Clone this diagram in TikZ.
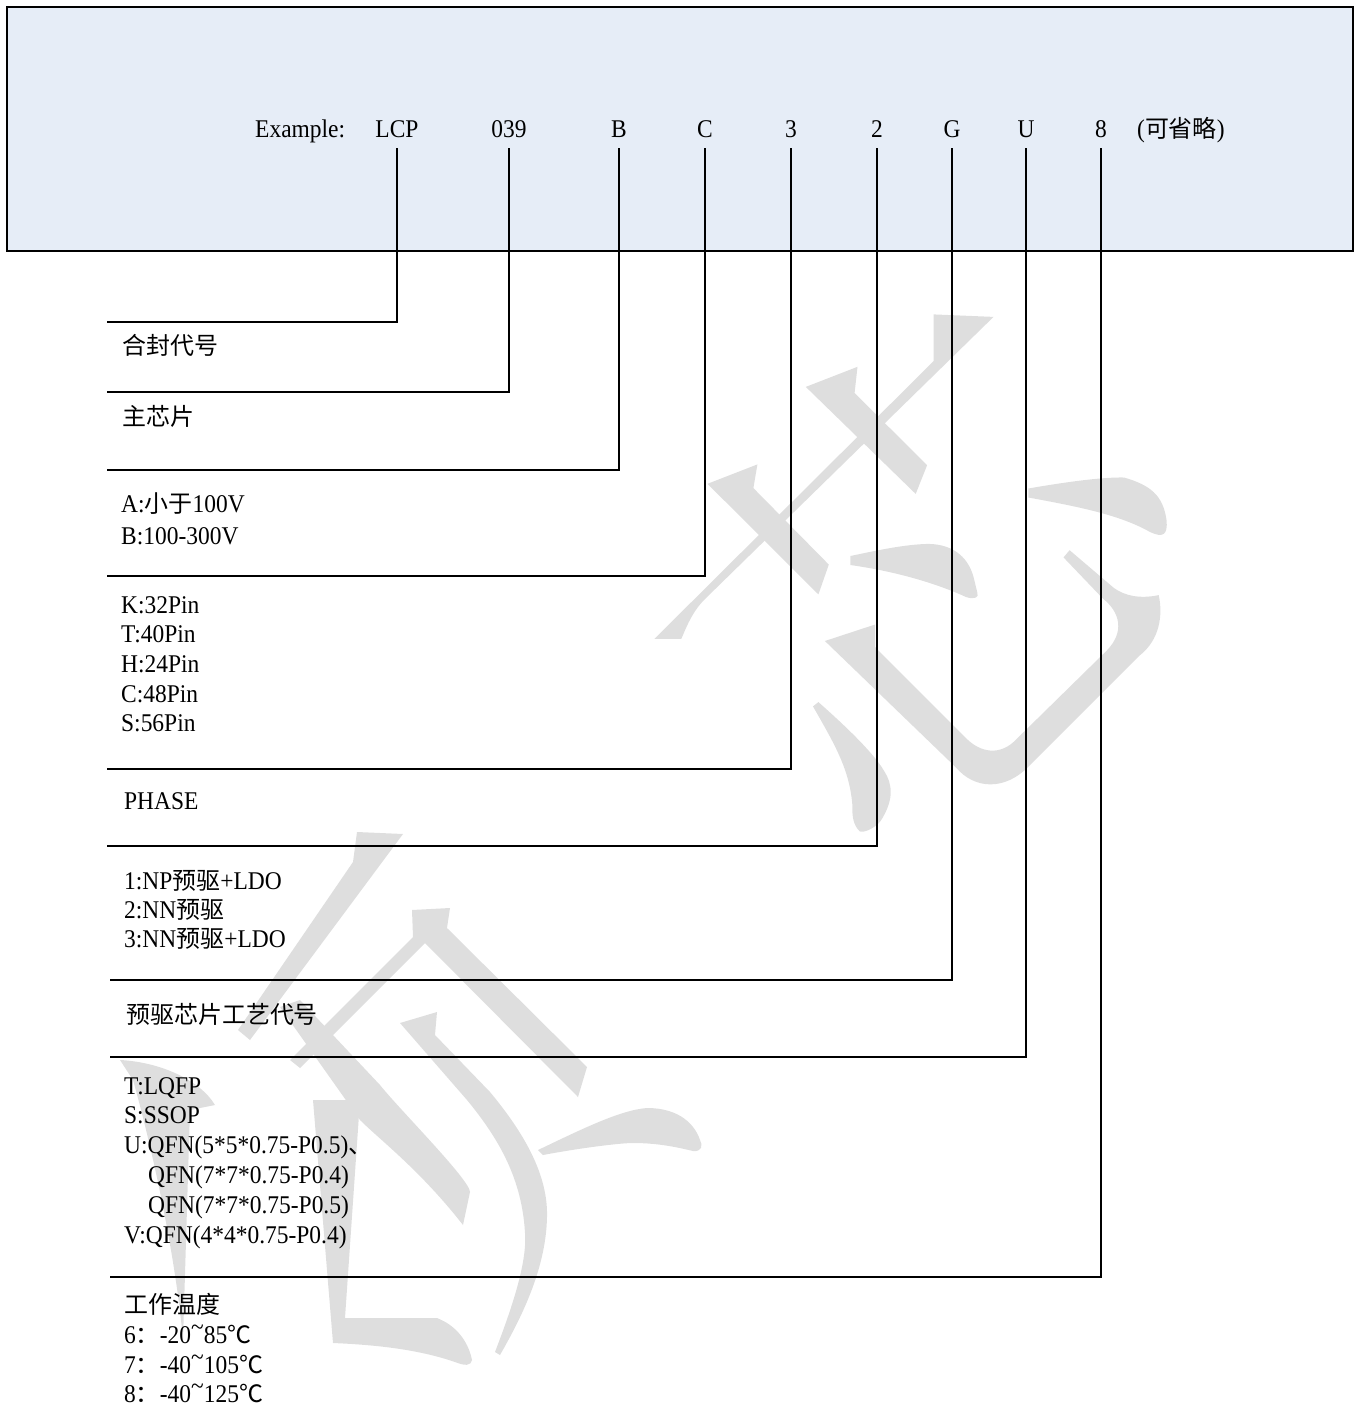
\documentclass[tikz,border=0pt]{standalone}
\usepackage{fontspec}
\setmainfont{Liberation Serif}[FakeStretch=0.92]
\newfontfamily\cjk{Noto Sans CJK SC}[Scale=0.94]
\newcommand\zh[1]{{\cjk #1}}
\newcommand\tld{\raisebox{8pt}{\textasciitilde}}
\definecolor{boxfill}{HTML}{E6EDF7}
\definecolor{wm}{HTML}{DEDEDE}
\tikzset{
  lbl/.style={font=\fontsize{25.5}{29}\selectfont, inner sep=0pt, anchor=base west},
  hdr/.style={font=\fontsize{25.5}{29}\selectfont, inner sep=0pt, anchor=base},
  leader/.style={line width=2pt, black},
  headbox/.style={draw=black, line width=2.5pt, fill=boxfill},
  wmark/.style={fill=wm, draw=none}
}
\begin{document}
\begin{tikzpicture}[x=1pt,y=-1pt]
\useasboundingbox (0,0) rectangle (1358,1408);
% header box
\draw[headbox] (7,7) rectangle (1353,251);

% ---- watermark (upper character) ----
\fill[wmark] (933.6,314.4) -- (993.5,316.9) -- (704.6,599.4) .. controls (692,612) and (686,628) .. (681.3,638.9) -- (654.4,638.9) -- (933.6,361.1) -- cycle;
\fill[wmark] (805.8,386.9) -- (857.5,366.8) -- (854.6,393.0) -- (927.1,465.2) -- (915.7,493.9) -- cycle;
\fill[wmark] (707.5,483.8) -- (757.4,464.4) -- (753.4,488.1) -- (828.8,564.6) -- (818.4,594.4) -- cycle;
\fill[wmark] (850.3,556) -- (850.3,565) .. controls (900,572) and (940,585) .. (966,597) .. controls (975,600) and (979,597) .. (977.4,593) -- (973.8,578) .. controls (968,555) and (950,543) .. (925,544) .. controls (900,545) and (870,552) .. (850.3,556) -- cycle;
\fill[wmark] (1028.4,488.5) .. controls (1060,483) and (1100,477) .. (1124,477.5) .. controls (1150,485) and (1163,495) .. (1166.5,520) .. controls (1168,535) and (1163,538) .. (1150,532) .. controls (1120,515) and (1080,507) .. (1028.4,497.5) -- cycle;
\fill[wmark] (824.9,641) -- (875.1,624.5) -- (875.1,647.1) -- (966.6,738.7) .. controls (980,752) and (1000,757) .. (1016.9,738.7) -- (1106.6,650.7) .. controls (1125,632) and (1120,612) .. (1103,598.7) -- (1063.5,557.4) -- (1069.6,550.2) -- (1113.8,587.9) .. controls (1125,596) and (1140,599) .. (1158.7,595.1) .. controls (1163,615) and (1160,640) .. (1138.9,656.1) -- (1027.6,767.4) .. controls (1005,790) and (975,790) .. (955.9,767.4) -- cycle;
\fill[wmark] (813,706.4) -- (818.4,702.1) .. controls (850,730) and (875,755) .. (884.1,771) .. controls (893,785) and (894,800) .. (880.5,821.2) .. controls (873,830) and (862,833) .. (859.7,831.3) .. controls (853,825) and (852,815) .. (852.5,806.9) .. controls (850,770) and (835,745) .. (813,706.4) -- cycle;
% ---- watermark (lower character) ----
\fill[wmark] (357,832) -- (403,834) -- (250,1040) -- (238,1030) -- (353,862) -- cycle;
\fill[wmark] (412,910) -- (450,908) -- (447,928) -- (587,1067) -- (578,1097) -- (425,943) -- (300,1068) -- (290,1060) -- (413,937) -- cycle;
\fill[wmark] (400,1023) -- (437,1012) -- (435,1035) -- (490,1092) .. controls (530,1140) and (548,1180) .. (547,1217) .. controls (546,1270) and (520,1320) .. (500,1355) -- (495,1352) .. controls (515,1300) and (527,1260) .. (525,1233) .. controls (522,1180) and (500,1140) .. (467,1100) -- cycle;
\fill[wmark] (538,1150) -- (543,1155) .. controls (580,1148) and (620,1143) .. (633,1143) .. controls (660,1143) and (680,1148) .. (693,1151) .. controls (702,1152) and (703,1145) .. (700,1140) .. controls (695,1125) and (680,1108) .. (647,1108) .. controls (620,1110) and (580,1130) .. (538,1150) -- cycle;
\fill[wmark] (280,1007) -- (300,1000) -- (380,1085) .. controls (400,1110) and (470,1180) .. (470,1192) -- (463,1225) .. controls (420,1170) and (380,1140) .. (360,1120) -- cycle;
\fill[wmark] (313,1100) -- (360,1100) -- (345,1318) -- (437,1318) .. controls (455,1325) and (468,1340) .. (472,1360) .. controls (471,1366) and (465,1366) .. (455,1362) .. controls (420,1350) and (380,1345) .. (333,1343) -- cycle;
\fill[wmark] (120,1060) .. controls (160,1062) and (200,1080) .. (215,1105) -- (190,1110) -- (183,1340) .. controls (175,1250) and (150,1140) .. (133,1080) -- cycle;

% ---- header labels ----
\node[lbl] (ex) at (255,137) {Example:};
\node[hdr] (lLCP) at (397,137) {LCP};
\node[hdr] (l039) at (509,137) {039};
\node[hdr] (lB) at (619,137) {B};
\node[hdr] (lC) at (705,137) {C};
\node[hdr] (l3) at (791,137) {3};
\node[hdr] (l2) at (877,137) {2};
\node[hdr] (lG) at (952,137) {G};
\node[hdr] (lU) at (1026,137) {U};
\node[hdr] (l8) at (1101,137) {8};
\node[lbl] (opt) at (1137,137) {(\zh{可省略})};

\coordinate (ytop) at (0,148);
% leader end points
\coordinate (eLCP) at (107,322);
\coordinate (e039) at (107,392);
\coordinate (eB) at (107,470);
\coordinate (eC) at (107,576);
\coordinate (e3) at (107,769);
\coordinate (e2) at (107,846);
\coordinate (eG) at (110,980);
\coordinate (eU) at (110,1057);
\coordinate (e8) at (110,1277);

\draw[leader] (lLCP |- ytop) |- (eLCP);
\draw[leader] (l039 |- ytop) |- (e039);
\draw[leader] (lB |- ytop) |- (eB);
\draw[leader] (lC |- ytop) |- (eC);
\draw[leader] (l3 |- ytop) |- (e3);
\draw[leader] (l2 |- ytop) |- (e2);
\draw[leader] (lG |- ytop) |- (eG);
\draw[leader] (lU |- ytop) |- (eU);
\draw[leader] (l8 |- ytop) |- (e8);

% ---- descriptions ----
\node[lbl] (t1) at (122,354) {\zh{合封代号}};
\node[lbl] (t2) at (122,425) {\zh{主芯片}};
\node[lbl] (t3a) at (121,512) {A:\zh{小于}100V};
\node[lbl] (t3b) at (121,544) {B:100-300V};
\node[lbl] (t4a) at (121,613) {K:32Pin};
\node[lbl] (t4b) at (121,642) {T:40Pin};
\node[lbl] (t4c) at (121,672) {H:24Pin};
\node[lbl] (t4d) at (121,702) {C:48Pin};
\node[lbl] (t4e) at (121,731) {S:56Pin};
\node[lbl] (t5) at (124,809) {PHASE};
\node[lbl] (t6a) at (124,889) {1:NP\zh{预驱}+LDO};
\node[lbl] (t6b) at (124,918) {2:NN\zh{预驱}};
\node[lbl] (t6c) at (124,947) {3:NN\zh{预驱}+LDO};
\node[lbl] (t7) at (126,1023) {\zh{预驱芯片工艺代号}};
\node[lbl] (t8a) at (124,1094) {T:LQFP};
\node[lbl] (t8b) at (124,1123) {S:SSOP};
\node[lbl] (t8c) at (124,1153) {U:QFN(5*5*0.75-P0.5)\zh{、}};
\node[lbl] (t8d) at (148,1183) {QFN(7*7*0.75-P0.4)};
\node[lbl] (t8e) at (148,1213) {QFN(7*7*0.75-P0.5)};
\node[lbl] (t8f) at (124,1243) {V:QFN(4*4*0.75-P0.4)};
\node[lbl] (t9a) at (124,1313) {\zh{工作温度}};
\node[lbl] (t9b) at (124,1343) {6\zh{：}-20\tld85\zh{℃}};
\node[lbl] (t9c) at (124,1373) {7\zh{：}-40\tld105\zh{℃}};
\node[lbl] (t9d) at (124,1402) {8\zh{：}-40\tld125\zh{℃}};
\end{tikzpicture}
\end{document}
